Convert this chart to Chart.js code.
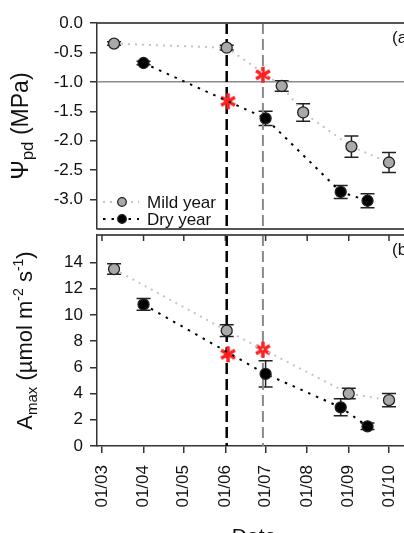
<!DOCTYPE html>
<html>
<head>
<meta charset="utf-8">
<script src="https://cdn.jsdelivr.net/npm/chart.js@4.4.0/dist/chart.umd.min.js"></script>
<style>
  html, body { margin: 0; padding: 0; background: #fff; overflow: hidden; width: 404px; height: 533px; }
  #wrap { position: relative; width: 430px; height: 560px; }
  canvas { position: absolute; left: 0; }
  #top { top: 0; }
  #bot { top: 224px; }
</style>
</head>
<body>
<div id="wrap">
  <canvas id="top" width="430" height="240"></canvas>
  <canvas id="bot" width="430" height="330"></canvas>
</div>
<script>
// x is day of year (01/03 = day 60)
const monthTicks = [60, 91, 121, 152, 182, 213, 244, 274];
const monthLabels = ['01/03', '01/04', '01/05', '01/06', '01/07', '01/08', '01/09', '01/10'];

const psiTicks = [0, -0.5, -1.0, -1.5, -2.0, -2.5, -3.0];
const psiMildDays = [69, 153, 194, 210, 246, 274];
const psiMild = [-0.35, -0.42, -1.07, -1.52, -2.10, -2.37];
const psiMildErr = [0.03, 0.04, 0.09, 0.15, 0.18, 0.17];
const psiDryDays = [91, 182, 238, 258];
const psiDry = [-0.68, -1.62, -2.87, -3.02];
const psiDryErr = [0.03, 0.12, 0.11, 0.12];

const aTicks = [0, 2, 4, 6, 8, 10, 12, 14];
const aMildDays = [69, 153, 244, 274];
const aMild = [13.5, 8.8, 4.0, 3.5];
const aMildErr = [0.4, 0.45, 0.4, 0.5];
const aDryDays = [91, 182, 238, 258];
const aDry = [10.8, 5.5, 2.95, 1.5];
const aDryErr = [0.45, 1.0, 0.65, 0.25];

const starDays = [154, 180];
const psiStars = [-1.33, -0.88];
const aStars = [7.0, 7.35];
const vlineDays = [153, 180];

const FONT = "'Liberation Sans', Arial, sans-serif";
const X_MIN = 56.3, X_MAX = 290.4;

// red asterisk used as point style
const star = document.createElement('canvas');
star.width = 20; star.height = 20;
(function () {
  const c = star.getContext('2d');
  c.strokeStyle = '#ff2020';
  c.lineWidth = 3.5;
  c.lineCap = 'butt';
  [90, 30, 150].forEach(a => {
    const r = a * Math.PI / 180;
    c.beginPath();
    c.moveTo(10 - 8 * Math.cos(r), 10 - 8 * Math.sin(r));
    c.lineTo(10 + 8 * Math.cos(r), 10 + 8 * Math.sin(r));
    c.stroke();
  });
})();

function pts(xs, ys) {
  return xs.map((x, i) => ({ x: x, y: ys[i] }));
}

function series(label, xs, ys, err, lineColor, fill, dash) {
  return {
    label: label,
    data: pts(xs, ys),
    err: err,
    showLine: true,
    borderColor: lineColor,
    borderWidth: 2,
    borderDash: dash,
    pointRadius: 5.5,
    pointBackgroundColor: fill,
    pointBorderColor: '#222',
    pointBorderWidth: 1.3
  };
}

function starSet(ys) {
  return { label: 'sig', data: pts(starDays, ys), pointStyle: star, showLine: false, pointRadius: 10 };
}

const errorBars = {
  id: 'errorBars',
  beforeDatasetsDraw(chart) {
    const ctx = chart.ctx, y = chart.scales.y;
    chart.data.datasets.forEach((ds, i) => {
      if (!ds.err) return;
      const meta = chart.getDatasetMeta(i);
      ctx.save();
      ctx.strokeStyle = '#222';
      ctx.lineWidth = 1.5;
      meta.data.forEach((p, j) => {
        const v = ds.data[j].y;
        const t = y.getPixelForValue(v + ds.err[j]);
        const b = y.getPixelForValue(v - ds.err[j]);
        ctx.beginPath();
        ctx.moveTo(p.x, t); ctx.lineTo(p.x, b);
        ctx.moveTo(p.x - 7, t); ctx.lineTo(p.x + 7, t);
        ctx.moveTo(p.x - 7, b); ctx.lineTo(p.x + 7, b);
        ctx.stroke();
      });
      ctx.restore();
    });
  }
};

const refLines = {
  id: 'refLines',
  beforeDatasetsDraw(chart, args, opts) {
    const ctx = chart.ctx, a = chart.chartArea, x = chart.scales.x, y = chart.scales.y;
    ctx.save();
    if (opts.hline !== undefined) {
      const py = y.getPixelForValue(opts.hline);
      ctx.strokeStyle = '#8a8a8a';
      ctx.lineWidth = 1.5;
      ctx.beginPath(); ctx.moveTo(a.left, py); ctx.lineTo(a.right, py); ctx.stroke();
    }
    const cols = ['#000', '#8a8a8a'];
    vlineDays.forEach((d, i) => {
      const px = x.getPixelForValue(d);
      ctx.strokeStyle = cols[i];
      ctx.lineWidth = i === 0 ? 2.5 : 2;
      ctx.setLineDash([11, 5]);
      ctx.beginPath(); ctx.moveTo(px, a.top); ctx.lineTo(px, a.bottom); ctx.stroke();
    });
    ctx.restore();
  }
};

const frame = {
  id: 'frame',
  afterDraw(chart, args, opts) {
    const ctx = chart.ctx, a = chart.chartArea, x = chart.scales.x;
    ctx.save();
    ctx.strokeStyle = '#555';
    ctx.lineWidth = 2;
    ctx.beginPath();
    ctx.moveTo(a.left, a.top); ctx.lineTo(a.right, a.top);
    if (opts.bottomLine) { ctx.moveTo(a.left, a.bottom); ctx.lineTo(a.right, a.bottom); }
    ctx.stroke();
    if (opts.topTicks) {
      ctx.strokeStyle = '#333';
      ctx.lineWidth = 1.5;
      ctx.beginPath();
      monthTicks.forEach(d => {
        const px = x.getPixelForValue(d);
        ctx.moveTo(px, a.top); ctx.lineTo(px, a.top + 6);
      });
      ctx.stroke();
    }
    // panel letter
    ctx.fillStyle = '#111';
    ctx.font = '17px ' + FONT;
    ctx.textBaseline = 'middle';
    ctx.fillText(opts.letter, 392, a.top + 15);
    // y title with sub/superscripts
    const parts = opts.title;
    let total = 0;
    parts.forEach(p => { ctx.font = p.size + 'px ' + FONT; p.w = ctx.measureText(p.t).width; total += p.w; });
    ctx.translate(opts.titleX, (a.top + a.bottom) / 2);
    ctx.rotate(-Math.PI / 2);
    ctx.textBaseline = 'alphabetic';
    let cx = -total / 2;
    parts.forEach(p => {
      ctx.font = p.size + 'px ' + FONT;
      ctx.fillText(p.t, cx, p.dy || 0);
      cx += p.w;
    });
    ctx.restore();
  }
};

const legendBox = {
  id: 'legendBox',
  afterDraw(chart, args, opts) {
    if (!opts.show) return;
    const ctx = chart.ctx;
    ctx.save();
    chart.data.datasets.slice(0, 2).forEach((ds, i) => {
      const py = 202 + i * 17;
      ctx.strokeStyle = ds.borderColor;
      ctx.lineWidth = 2;
      ctx.setLineDash(ds.borderDash);
      ctx.beginPath(); ctx.moveTo(103, py); ctx.lineTo(139, py); ctx.stroke();
      ctx.setLineDash([]);
      ctx.fillStyle = ds.pointBackgroundColor;
      ctx.strokeStyle = '#222';
      ctx.lineWidth = 1.3;
      ctx.beginPath(); ctx.arc(122, py, 4.3, 0, Math.PI * 2); ctx.fill(); ctx.stroke();
      ctx.fillStyle = '#111';
      ctx.font = '17px ' + FONT;
      ctx.textBaseline = 'middle';
      ctx.fillText(ds.label, 147, py + 1);
    });
    ctx.restore();
  }
};

function yScale(min, max, ticks, fmt) {
  return {
    min: min, max: max,
    afterBuildTicks: s => { s.ticks = ticks.map(v => ({ value: v })); },
    afterFit: s => { s.width = 97; s.paddingTop = 0; s.paddingBottom = 0; },
    ticks: { callback: fmt, color: '#111', font: { family: FONT, size: 17 }, padding: 7 },
    grid: { drawOnChartArea: false, drawTicks: true, tickLength: 7, color: '#333', lineWidth: 1.5 },
    border: { color: '#333', width: 1.5 }
  };
}

function baseOptions(padding) {
  return {
    responsive: false,
    animation: false,
    events: [],
    layout: { padding: padding },
    plugins: { legend: { display: false }, tooltip: { enabled: false } }
  };
}

// top panel: predawn water potential
const topOpts = baseOptions({ top: 23, right: 19, bottom: 6, left: 0 });
topOpts.scales = {
  x: { type: 'linear', display: false, min: X_MIN, max: X_MAX },
  y: yScale(-3.5, 0, psiTicks, v => v.toFixed(1))
};
topOpts.plugins.refLines = { hline: -1.0 };
topOpts.plugins.frame = {
  bottomLine: true, topTicks: false, letter: '(a)', titleX: 28,
  title: [{ t: 'Ψ', size: 23 }, { t: 'pd', size: 17, dy: 5 }, { t: ' (MPa)', size: 23 }]
};
topOpts.plugins.legendBox = { show: true };

new Chart(document.getElementById('top'), {
  type: 'scatter',
  data: {
    datasets: [
      series('Mild year', psiMildDays, psiMild, psiMildErr, '#c4c4c4', '#a9a9a9', [2, 5]),
      series('Dry year', psiDryDays, psiDry, psiDryErr, '#000', '#000', [2.5, 6]),
      starSet(psiStars)
    ]
  },
  options: topOpts,
  plugins: [errorBars, refLines, frame, legendBox]
});

// bottom panel: Amax
const botOpts = baseOptions({ top: 10, right: 19, bottom: 0, left: 0 });
botOpts.scales = {
  x: {
    type: 'linear', min: X_MIN, max: X_MAX,
    afterBuildTicks: s => { s.ticks = monthTicks.map(v => ({ value: v })); },
    afterFit: s => { s.height = 108; s.paddingLeft = 0; s.paddingRight = 0; },
    ticks: {
      callback: (v, i) => monthLabels[i],
      color: '#111', font: { family: FONT, size: 17 },
      minRotation: 90, maxRotation: 90, padding: 12, autoSkip: false
    },
    grid: { drawOnChartArea: false, drawTicks: true, tickLength: 7, color: '#333', lineWidth: 1.5 },
    border: { color: '#333', width: 1.5 },
    title: { display: true, text: 'Date', color: '#111', font: { family: FONT, size: 21 }, padding: 4 }
  },
  y: yScale(0, 16.1, aTicks, v => String(v))
};
botOpts.plugins.refLines = {};
botOpts.plugins.frame = {
  bottomLine: false, topTicks: true, letter: '(b)', titleX: 32,
  title: [
    { t: 'A', size: 22 }, { t: 'max', size: 15, dy: 5 }, { t: ' (µmol m', size: 22 },
    { t: '-2', size: 14, dy: -9 }, { t: ' s', size: 22 }, { t: '-1', size: 14, dy: -9 }, { t: ')', size: 22 }
  ]
};
botOpts.plugins.legendBox = { show: false };

new Chart(document.getElementById('bot'), {
  type: 'scatter',
  data: {
    datasets: [
      series('Mild year', aMildDays, aMild, aMildErr, '#c4c4c4', '#a9a9a9', [2, 5]),
      series('Dry year', aDryDays, aDry, aDryErr, '#000', '#000', [2.5, 6]),
      starSet(aStars)
    ]
  },
  options: botOpts,
  plugins: [errorBars, refLines, frame, legendBox]
});
</script>
</body>
</html>
